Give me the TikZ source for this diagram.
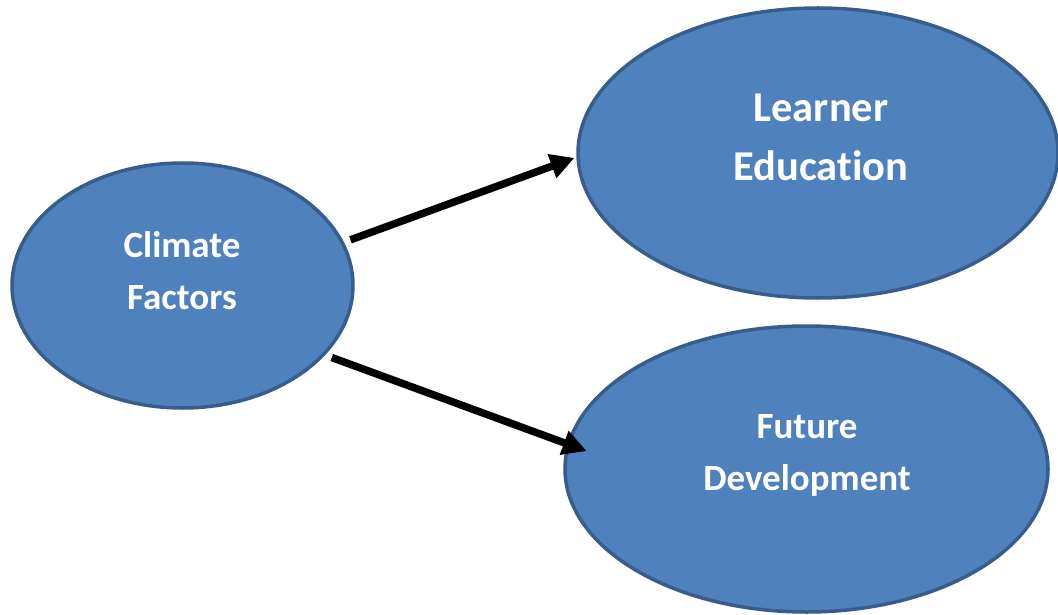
\documentclass[tikz,border=0pt]{standalone}
\usepackage{fontspec}
\setmainfont[Ligatures=NoCommon]{Carlito}
\usetikzlibrary{shapes.geometric,arrows.meta}
\definecolor{ellfill}{HTML}{4F81BD}
\definecolor{ellline}{HTML}{385D8A}
\tikzset{
  ell/.style={ellipse, draw=ellline, line width=3.5pt, fill=ellfill, inner sep=0pt},
  lbl/.style={text=white, font=\bfseries\fontsize{37}{52}\selectfont, align=center, inner sep=0pt},
  biglbl/.style={lbl, font=\bfseries\fontsize{42.5}{59}\selectfont},
  arr/.style={draw=black, line width=7.5pt, -{Triangle[length=24pt,width=24pt]}, shorten <=7pt}
}
\begin{document}
\begin{tikzpicture}[x=1pt,y=-1pt]
\useasboundingbox (0,0) rectangle (1058,615);
\node[ell, minimum width=341pt, minimum height=245pt] (cf) at (182.5,285.5) {};
\node[ell, minimum width=480pt, minimum height=290pt] (le) at (818,153) {};
\node[ell, minimum width=483pt, minimum height=286pt] (fd) at (806.5,469) {};
\node[lbl] (cft) at (182,271) {Climate\\Factors};
\node[biglbl] (let) at (821,137) {Learner\\Education};
\node[lbl] (fdt) at (807,455) {Future\\Development};
\draw[arr, shorten >=2pt] (cf.15) -- (le.181);
\draw[arr, shorten >=-21pt] (cf.-26) -- (fd.174);
\end{tikzpicture}
\end{document}
